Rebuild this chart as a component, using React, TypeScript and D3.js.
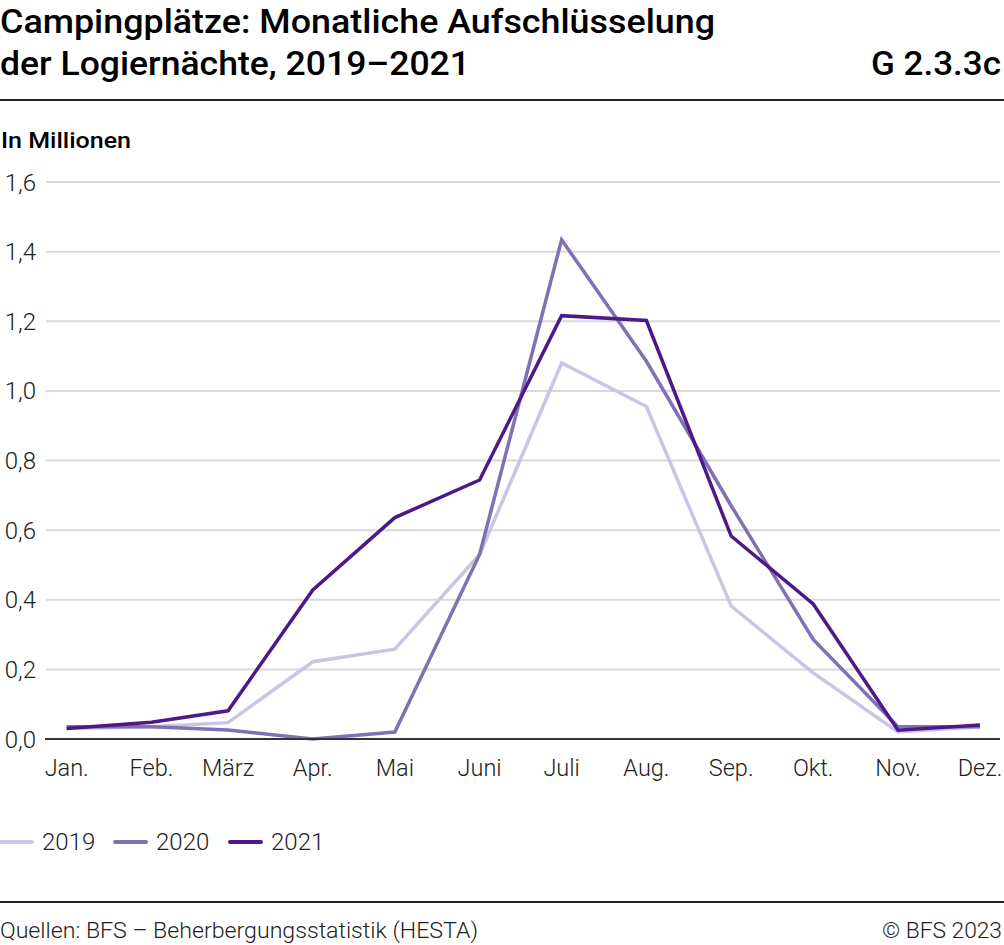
import React from "react";
import * as d3 from "d3";

const months = ["Jan.", "Feb.", "März", "Apr.", "Mai", "Juni", "Juli", "Aug.", "Sep.", "Okt.", "Nov.", "Dez."];
const monthDates = months.map((_, i) => new Date(2021, i, 1));
const yTicks = [0, 0.2, 0.4, 0.6, 0.8, 1.0, 1.2, 1.4, 1.6];

const values2019 = [0.03, 0.035, 0.047, 0.222, 0.258, 0.53, 1.08, 0.955, 0.382, 0.19, 0.02, 0.035];
const values2020 = [0.035, 0.035, 0.026, 0.0, 0.02, 0.53, 1.434, 1.085, 0.67, 0.286, 0.035, 0.035];
const values2021 = [0.03, 0.048, 0.081, 0.428, 0.636, 0.744, 1.216, 1.202, 0.583, 0.388, 0.025, 0.04];

const seriesNames = ["2019", "2020", "2021"];
const seriesColors = ["#cbc5e3", "#8270b5", "#4b1a8a"];
const seriesValues = [values2019, values2020, values2021];

const W = 1004;
const H = 945;
const font = "Roboto, 'Noto Sans', sans-serif";

export default function App() {
  const x = d3.scaleTime().domain([monthDates[0], monthDates[11]]).range([66.7, 980]);
  const y = d3.scaleLinear().domain([0, 1.6]).range([739, 182]);
  const fmt = (v: number) => d3.format(".1f")(v).replace(".", ",");
  const line = d3
    .line<number>()
    .x((_, i) => x(monthDates[i]))
    .y((d) => y(d));

  const legendX = [0, 114, 229];

  return (
    <svg width={W} height={H} style={{ position: "absolute", left: 0, top: 0 }} fontFamily={font}>
      <rect width={W} height={H} fill="#fff" />
      <text x={0} y={33} fontSize={33} fontWeight={500} fill="#000" textLength={715} lengthAdjust="spacingAndGlyphs">
        Campingplätze: Monatliche Aufschlüsselung
      </text>
      <text x={0} y={75} fontSize={33} fontWeight={500} fill="#000" textLength={470} lengthAdjust="spacingAndGlyphs">
        der Logiernächte, 2019–2021
      </text>
      <text x={1001} y={75} fontSize={33} fontWeight={500} fill="#000" textAnchor="end" textLength={130} lengthAdjust="spacingAndGlyphs">
        G 2.3.3c
      </text>
      <line x1={0} x2={1004} y1={100} y2={100} stroke="#222" strokeWidth={2} />

      <text x={1} y={148} fontSize={22} fontWeight={500} fill="#000" textLength={130} lengthAdjust="spacingAndGlyphs">
        In Millionen
      </text>

      {yTicks.map((t) => (
        <g key={t}>
          {t !== 0 && (
            <line x1={46} x2={1000} y1={y(t)} y2={y(t)} stroke="#d9d9d9" strokeWidth={2} />
          )}
          <text x={36} y={y(t) + 8.5} fontSize={24} fontWeight={300} fill="#222" textAnchor="end">
            {fmt(t)}
          </text>
        </g>
      ))}

      {seriesValues.map((vals, i) => (
        <path
          key={seriesNames[i]}
          d={line(vals) || ""}
          fill="none"
          stroke={seriesColors[i]}
          strokeWidth={3.5}
          strokeLinejoin="miter"
        />
      ))}

      <line x1={45} x2={1000} y1={y(0)} y2={y(0)} stroke="#333" strokeWidth={2} />

      {months.map((m, i) => (
        <text
          key={m}
          x={x(monthDates[i])}
          y={776}
          fontSize={23.5}
          fontWeight={300}
          fill="#222"
          textAnchor="middle"
        >
          {m}
        </text>
      ))}

      {seriesNames.map((n, i) => (
        <g key={n}>
          <line
            x1={legendX[i] + 1}
            x2={legendX[i] + 32}
            y1={842}
            y2={842}
            stroke={seriesColors[i]}
            strokeWidth={4}
            strokeLinecap="round"
          />
          <text x={legendX[i] + 42} y={850} fontSize={24} fontWeight={300} fill="#222">
            {n}
          </text>
        </g>
      ))}

      <line x1={0} x2={1004} y1={902} y2={902} stroke="#222" strokeWidth={2} />
      <text x={0} y={938} fontSize={22} fontWeight={300} fill="#222" textLength={478} lengthAdjust="spacingAndGlyphs">
        Quellen: BFS – Beherbergungsstatistik (HESTA)
      </text>
      <text x={1002} y={938} fontSize={22} fontWeight={300} fill="#222" textAnchor="end" textLength={120} lengthAdjust="spacingAndGlyphs">
        © BFS 2023
      </text>
    </svg>
  );
}
